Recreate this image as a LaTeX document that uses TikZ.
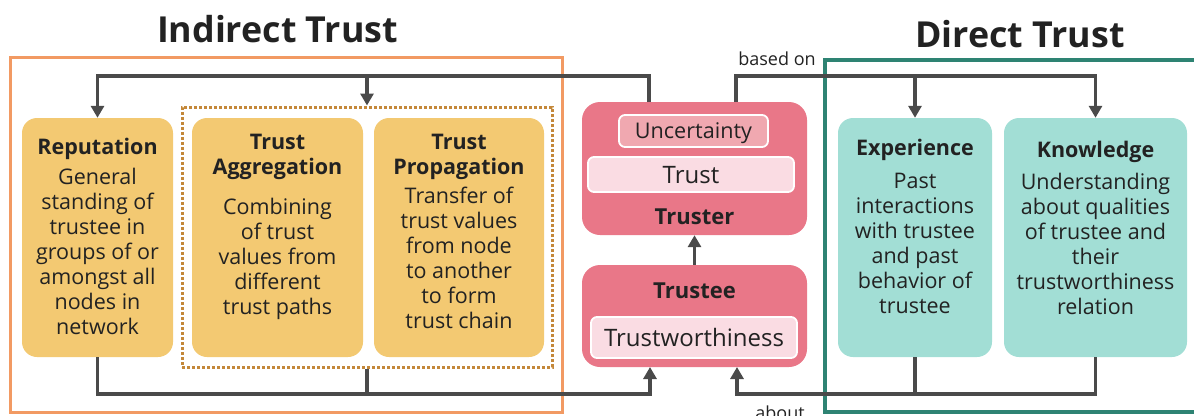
\documentclass[tikz,border=0pt]{standalone}
\usepackage{fontspec}
\setmainfont{Open Sans}
\usetikzlibrary{arrows.meta,calc}

\definecolor{inkC}{HTML}{222222}
\definecolor{wireC}{HTML}{4A4A4A}
\definecolor{goldC}{HTML}{F3C972}
\definecolor{pinkC}{HTML}{E97788}
\definecolor{pinkMid}{HTML}{F0A8B0}
\definecolor{pinkLight}{HTML}{FADCE3}
\definecolor{tealC}{HTML}{A2DED5}
\definecolor{greenFrame}{HTML}{2E8373}
\definecolor{orangeFrame}{HTML}{F29A63}
\definecolor{dotC}{HTML}{C4883A}

% first-line strut so that a multi-line node's north edge sits 19pt above its first baseline
\newcommand\firstline{\rule{0pt}{19pt}}

\tikzset{
  card/.style={rounded corners=15pt, inner sep=0pt, draw=none},
  goldcard/.style={card, fill=goldC},
  tealcard/.style={card, fill=tealC},
  pinkcard/.style={rounded corners=18pt, inner sep=0pt, fill=pinkC},
  chip/.style={rounded corners=6pt, draw=white, line width=1.8pt, inner sep=0pt,
    text depth=0pt, text=inkC},
  heading/.style={inner sep=0pt, anchor=base, text=inkC, align=center,
    font=\fontsize{21.5}{25}\selectfont\bfseries},
  bodytext/.style={inner sep=0pt, anchor=north, text=inkC, align=center,
    font=\fontsize{21.5}{25}\selectfont},
  wire/.style={draw=wireC, line width=3.8pt},
  feed/.style={wire, -{Triangle[length=12pt,width=13pt]}},
  bigtitle/.style={inner sep=0pt, anchor=base, text=inkC, font=\fontsize{35.8}{40}\selectfont\bfseries},
  smalllabel/.style={inner sep=0pt, anchor=base, text=inkC, font=\fontsize{18}{20}\selectfont},
}

\begin{document}
\begin{tikzpicture}[x=1pt,y=-1pt]
\useasboundingbox (0,0) rectangle (1194,415);

% frames of the two groups
\draw[orangeFrame, line width=3pt] (10,57) rectangle (562,412);
\draw[greenFrame, line width=3.5pt] (825,60) rectangle (1210,412);
\node[bigtitle] (indirectTitle) at (277.5,42) {Indirect Trust};
\node[bigtitle] (directTitle) at (1020,47) {Direct Trust};

% dotted group around aggregation and propagation
\node[draw=dotC, line width=3pt, dash pattern=on 2.6pt off 2.4pt, inner sep=0pt,
      minimum width=370, minimum height=260] (group) at (367,237) {};

% indirect trust cards
\node[goldcard, minimum width=151, minimum height=239] (rep) at (97.5,237.5) {};
\node[goldcard, minimum width=171, minimum height=239] (agg) at (277.5,237.5) {};
\node[goldcard, minimum width=170, minimum height=239] (prop) at (459,237.5) {};

\node[heading] (repH) at (97.5,154.5) {Reputation};
\node[bodytext] (repB) at (97.5,165.5) {\firstline General\\standing of\\trustee in\\groups of or\\amongst all\\nodes in\\network};

\node[heading] (aggH) at (277.5,174.5) {Trust\\Aggregation};
\node[bodytext] (aggB) at (277.5,195.5) {\firstline Combining\\of trust\\values from\\different\\trust paths};

\node[heading] (propH) at (459,174.5) {Trust\\Propagation};
\node[bodytext] (propB) at (459,184.5) {\firstline Transfer of\\trust values\\from node\\to another\\to form\\trust chain};

% truster and trustee
\node[pinkcard, minimum width=225, minimum height=133] (truster) at (694.5,168.5) {};
\node[chip, fill=pinkMid, minimum width=149, minimum height=32, text height=15.4pt,
      font=\fontsize{21.6}{24}\selectfont] (uncert) at (693.5,131) {Uncertainty};
\node[chip, fill=pinkLight, minimum width=206, minimum height=35, text height=17.1pt,
      font=\fontsize{24}{28}\selectfont] (trust) at (691,174.5) {Trust};
\node[heading, font=\fontsize{22}{26}\selectfont\bfseries] (trusterH) at (694.5,224) {Truster};

\node[pinkcard, minimum width=225, minimum height=102] (trustee) at (694.5,316) {};
\node[heading, font=\fontsize{22}{26}\selectfont\bfseries] (trusteeH) at (694.5,298) {Trustee};
\node[chip, fill=pinkLight, minimum width=206, minimum height=41, text height=17.1pt,
      font=\fontsize{24}{28}\selectfont] (worth) at (694,337.5) {Trustworthiness};

% direct trust cards
\node[tealcard, minimum width=154, minimum height=239] (exp) at (915,237.5) {};
\node[tealcard, minimum width=183, minimum height=239] (know) at (1095.5,237.5) {};

\node[heading] (expH) at (915,155.5) {Experience};
\node[bodytext] (expB) at (915,169.5) {\firstline Past\\interactions\\with trustee\\and past\\behavior of\\trustee};

\node[heading] (knowH) at (1095.5,157.5) {Knowledge};
\node[bodytext] (knowB) at (1095.5,170.5) {\firstline Understanding\\about qualities\\of trustee and\\their\\trustworthiness\\relation};

% connector ends and bus heights
\coordinate (topBus) at (0,76);
\coordinate (botBus) at (0,394);
\coordinate (trL) at (649,102);
\coordinate (trR) at (736,102);
\coordinate (teL) at (650,367);
\coordinate (teR) at (737,367);

% indirect side
\draw[feed] (trL) -- (trL |- topBus) -| (rep.north);
\draw[feed] (group.north |- topBus) -- (group.north);
\draw[feed] (rep.south) -- (rep.south |- botBus) -| (teL);
\draw[wire] (group.south) -- (group.south |- botBus);

% direct side
\draw[feed] (trR) -- (trR |- topBus) -| (know.north);
\draw[feed] (exp.north |- topBus) -- (exp.north);
\draw[feed] (know.south) -- (know.south |- botBus) -| (teR);
\draw[wire] (exp.south) -- (exp.south |- botBus);

% trustee to truster
\draw[feed] (trustee.north) -- (truster.south);

\node[smalllabel] (basedOn) at (777,65) {based on};
\node[smalllabel] (about) at (780,419.5) {about};
\end{tikzpicture}
\end{document}
